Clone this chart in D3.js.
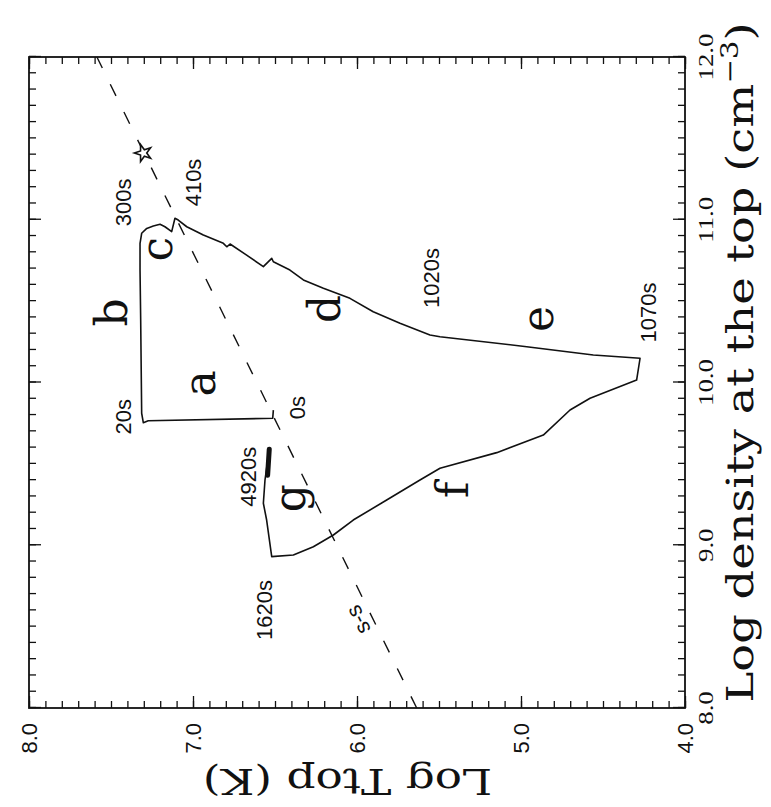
<!DOCTYPE html>
<html><head><meta charset="utf-8">
<script src="https://cdn.jsdelivr.net/npm/d3@7"></script>
<style>body{margin:0;background:#fff} svg{display:block}</style>
</head><body>
<svg id="chart" width="771" height="807"></svg>
<script>
// Evolution track: log density at the top (cm^-3) vs log Ttop (K), in time order 0s -> 4920s
const trackDensity = [9.83, 9.78, 9.765, 9.753, 9.811, 10.384, 10.691, 10.855, 10.917, 10.947, 10.962, 10.972, 10.957, 10.927, 11.009, 10.998, 10.957, 10.906, 10.855, 10.834, 10.851, 10.783, 10.712, 10.763, 10.742, 10.691, 10.630, 10.579, 10.517, 10.435, 10.364, 10.292, 10.281, 10.220, 10.169, 10.149, 10.015, 9.903, 9.831, 9.677, 9.569, 9.473, 9.401, 9.278, 9.155, 9.063, 8.991, 8.940, 8.930, 9.155, 9.258, 9.401, 9.59];
const trackTemp = [6.51, 6.514, 7.273, 7.303, 7.313, 7.319, 7.323, 7.323, 7.313, 7.282, 7.242, 7.201, 7.171, 7.130, 7.110, 7.090, 7.038, 6.937, 6.815, 6.794, 6.774, 6.673, 6.571, 6.520, 6.510, 6.409, 6.327, 6.205, 6.043, 5.901, 5.738, 5.555, 5.494, 4.965, 4.559, 4.274, 4.295, 4.579, 4.701, 4.864, 5.148, 5.494, 5.616, 5.819, 6.023, 6.144, 6.266, 6.388, 6.520, 6.551, 6.571, 6.561, 6.535];
// thick end of phase g
const endBlobDensity = [9.43, 9.59];
const endBlobTemp = [6.545, 6.535];

// s-s line
const ssDensity = [8.0, 12.0];
const ssTemp = [5.636, 7.586];
const ssLabel = "s-s";
const ssLabelDensity = 8.541, ssLabelTemp = 5.994;

// star
const starDensity = 11.41, starTemp = 7.303;

// phase letters (baseline positions)
const segLetters = ["a", "b", "c", "d", "e", "f", "g"];
const segLetterDensity = [9.995, 10.430, 10.820, 10.452, 10.390, 9.340, 9.290];
const segLetterTemp = [6.866, 7.404, 7.130, 6.104, 4.803, 5.323, 6.317];

// time labels (centres)
const timeLabels = ["0s", "20s", "300s", "410s", "1020s", "1070s", "1620s", "4920s"];
const timeLabelDensity = [9.846, 9.790, 11.107, 11.229, 10.642, 10.430, 8.602, 9.421];
const timeLabelTemp = [6.363, 7.425, 7.425, 6.998, 5.549, 4.226, 6.567, 6.663];

// axes
const densityTicks = [8, 9, 10, 11, 12];
const densityTickLabels = ["8.0", "9.0", "10.0", "11.0", "12.0"];
const tempTicks = [4, 5, 6, 7, 8];
const tempTickLabels = ["4.0", "5.0", "6.0", "7.0", "8.0"];
const xTitle = "Log density at the top (cm";
const xTitleSup = "\u22123";
const yTitle = "Log Ttop (K)";

const W = 651, H = 656;
const ink = "#111";
const svg = d3.select("#chart");
// the whole figure is turned a quarter turn counter-clockwise
const g = svg.append("g").attr("transform", "translate(29,708) rotate(-90)");
const x = d3.scaleLinear().domain([8, 12]).range([0, W]);
const y = d3.scaleLinear().domain([4, 8]).range([H, 0]);

// ticks (inward) on all four sides
const dMinor = d3.range(80, 121).map(v => v / 10);
const tMinor = d3.range(40, 81).map(v => v / 10);
function axisSet(gen, scale, vals, size, tr) {
  g.append("g").attr("transform", tr)
    .call(gen(scale).tickValues(vals).tickSizeInner(-size).tickSizeOuter(0).tickFormat(""))
    .call(s => s.select(".domain").remove())
    .call(s => s.selectAll("line").attr("stroke", ink).attr("stroke-width", 1.3));
}
[[dMinor, 7], [densityTicks, 12]].forEach(([v, s]) => {
  axisSet(d3.axisBottom, x, v, s, `translate(0,${H})`);
  axisSet(d3.axisTop, x, v, s, `translate(0,0)`);
});
[[tMinor, 7], [tempTicks, 12]].forEach(([v, s]) => {
  axisSet(d3.axisLeft, y, v, s, `translate(0,0)`);
  axisSet(d3.axisRight, y, v, s, `translate(${W},0)`);
});
g.append("rect").attr("x", 0).attr("y", 0).attr("width", W).attr("height", H)
  .attr("fill", "none").attr("stroke", ink).attr("stroke-width", 1.8);

// tick labels
g.append("g").selectAll("text").data(densityTicks).join("text")
  .attr("transform", d => `translate(${x(d)},${H + 28}) scale(1.22,1)`)
  .attr("text-anchor", "middle")
  .attr("font-family", "Liberation Serif, serif").attr("font-size", 22).attr("fill", ink)
  .text((d, i) => densityTickLabels[i]);
g.append("g").selectAll("text").data(tempTicks).join("text")
  .attr("transform", d => `translate(-15,${y(d)})`)
  .attr("text-anchor", "end").attr("dy", "0.35em")
  .attr("font-family", "Liberation Sans, Arial, sans-serif").attr("font-size", 22).attr("fill", ink)
  .text((d, i) => tempTickLabels[i]);

// axis titles
const xt = g.append("text").attr("transform", `translate(345.5,724) scale(1.22,1)`)
  .attr("text-anchor", "middle").attr("font-family", "DejaVu Serif, serif")
  .attr("font-size", 38).attr("fill", ink);
xt.append("tspan").text(xTitle);
xt.append("tspan").attr("dy", -15).attr("font-size", 24).text(xTitleSup);
xt.append("tspan").attr("dy", 15).text(")");
g.append("text").attr("transform", `translate(-61,318.5) rotate(-90) scale(1.26,1)`)
  .attr("text-anchor", "middle").attr("font-family", "DejaVu Serif, serif")
  .attr("font-size", 36).attr("fill", ink).text(yTitle);

// s-s dashed line
const line = d3.line().x(d => x(d[0])).y(d => y(d[1]));
g.append("path").datum(ssDensity.map((d, i) => [d, ssTemp[i]]))
  .attr("d", line).attr("fill", "none").attr("stroke", ink)
  .attr("stroke-width", 1.4).attr("stroke-dasharray", "13,18");
const ang = Math.atan2(y(ssTemp[1]) - y(ssTemp[0]), x(ssDensity[1]) - x(ssDensity[0])) * 180 / Math.PI;
g.append("text").attr("transform", `translate(${x(ssLabelDensity)},${y(ssLabelTemp)}) rotate(${ang})`)
  .attr("text-anchor", "middle").attr("dy", "0.35em")
  .attr("font-family", "Liberation Sans, Arial, sans-serif").attr("font-size", 22).attr("fill", ink)
  .text(ssLabel);

// track
g.append("path").datum(trackDensity.map((d, i) => [d, trackTemp[i]]))
  .attr("d", line).attr("fill", "none").attr("stroke", ink)
  .attr("stroke-width", 1.6).attr("stroke-linejoin", "round");
g.append("path").datum(endBlobDensity.map((d, i) => [d, endBlobTemp[i]]))
  .attr("d", line).attr("fill", "none").attr("stroke", ink)
  .attr("stroke-width", 5).attr("stroke-linecap", "round");

// star
g.append("path").attr("d", d3.symbol(d3.symbolStar, 90)())
  .attr("transform", `translate(${x(starDensity)},${y(starTemp)})`)
  .attr("fill", "#fff").attr("stroke", ink).attr("stroke-width", 1.6);

// phase letters
g.append("g").selectAll("text").data(segLetters).join("text")
  .attr("x", (d, i) => x(segLetterDensity[i])).attr("y", (d, i) => y(segLetterTemp[i]))
  .attr("text-anchor", "middle").attr("font-family", "DejaVu Serif, serif")
  .attr("font-size", 44).attr("fill", ink).text(d => d);

// time labels
g.append("g").selectAll("text").data(timeLabels).join("text")
  .attr("x", (d, i) => x(timeLabelDensity[i])).attr("y", (d, i) => y(timeLabelTemp[i]))
  .attr("dy", "0.35em").attr("text-anchor", "middle")
  .attr("font-family", "Liberation Sans, Arial, sans-serif").attr("font-size", 22).attr("fill", ink)
  .text(d => d);
</script>
</body></html>
